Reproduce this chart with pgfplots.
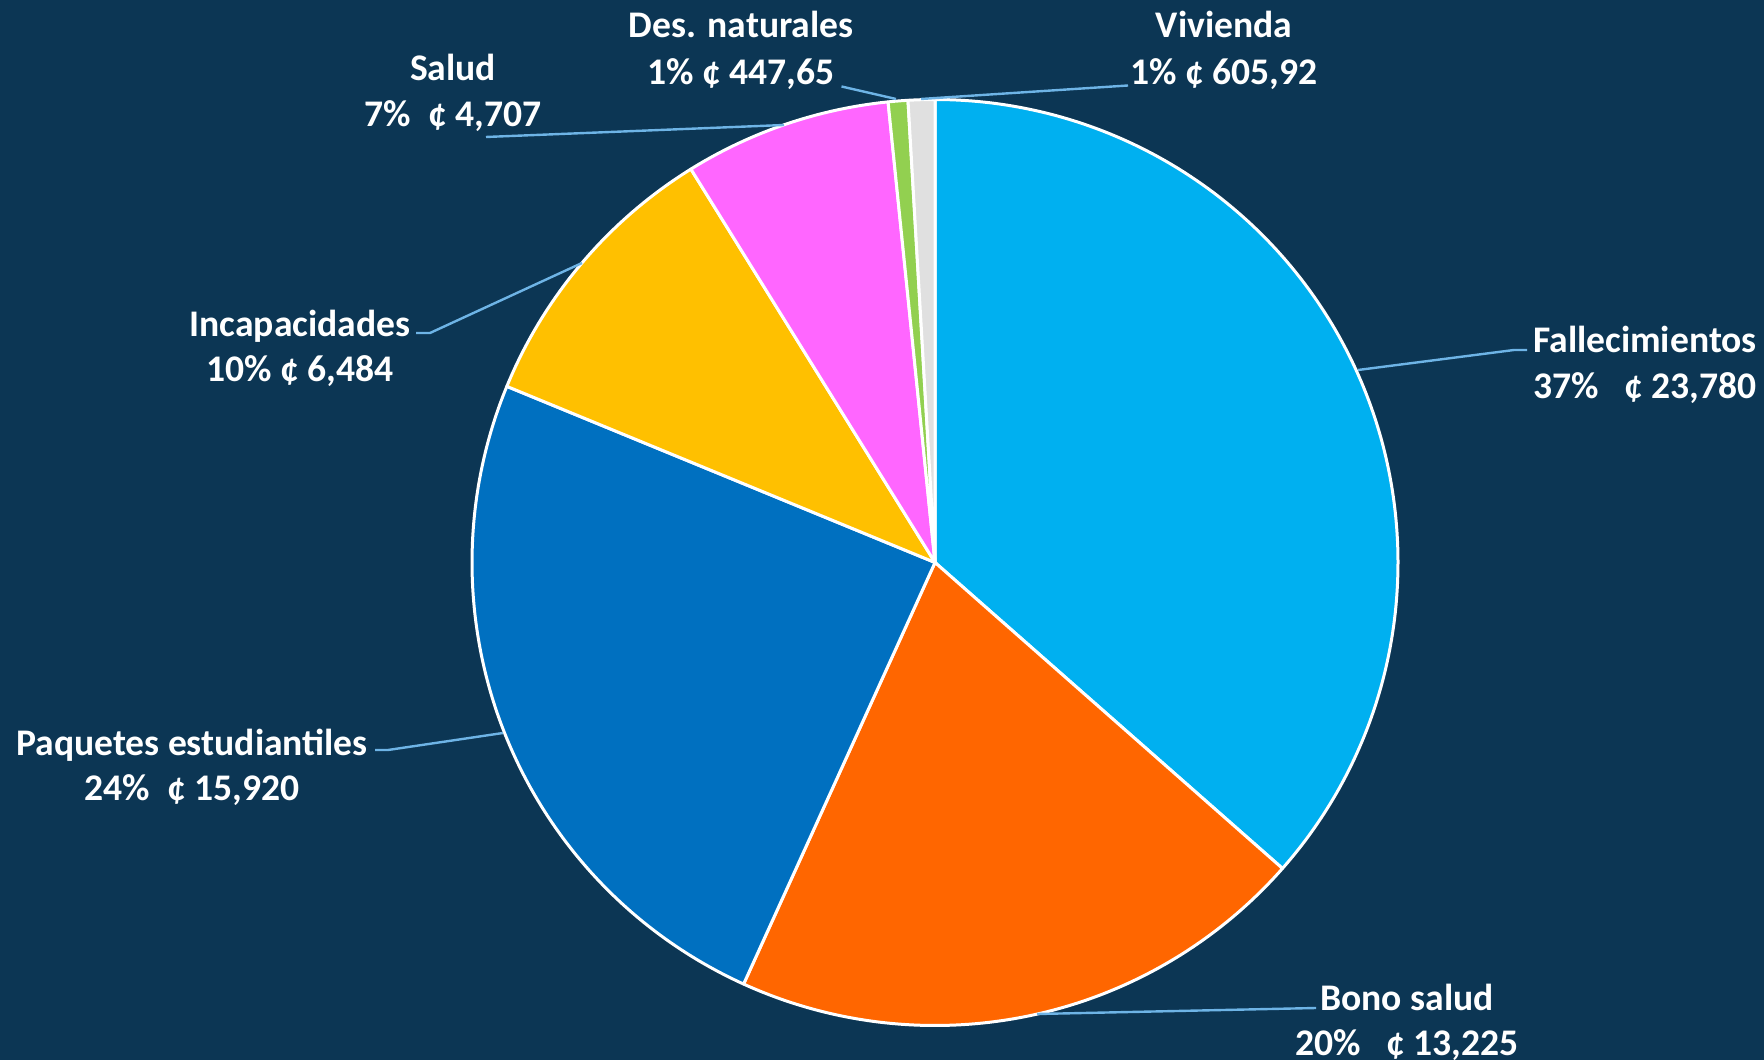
\documentclass[border=0pt]{standalone}
\usepackage{pgfplots}
\pgfplotsset{compat=1.18}
\usepackage{fontspec}
\setmainfont{Carlito}
\definecolor{bg}{RGB}{12,54,84}
\definecolor{cFal}{HTML}{00B0F0}
\definecolor{cBon}{HTML}{FF6600}
\definecolor{cPaq}{HTML}{0070C0}
\definecolor{cInc}{HTML}{FFC000}
\definecolor{cSal}{HTML}{FF66FF}
\definecolor{cDes}{HTML}{92D050}
\definecolor{cViv}{HTML}{E0E0E0}
\definecolor{lead}{RGB}{110,180,230}
\tikzset{
  slice/.style={draw=white, line width=1.5pt, line join=round},
  lab/.style={text=white, anchor=base, inner sep=0pt, font=\fontsize{18.8pt}{23pt}\selectfont\bfseries},
  ld/.style={draw=lead, line width=1.2pt}}
% values (colones)
\def\vFal{23780}
\def\vBon{13225}
\def\vPaq{15920}
\def\vInc{6484}
\def\vSal{4707}
\def\vDes{447.65}
\def\vViv{605.92}
\edef\tot{\fpeval{\vFal+\vBon+\vPaq+\vInc+\vSal+\vDes+\vViv}}
\edef\aA{90}
\edef\aB{\fpeval{\aA-360*\vFal/\tot}}
\edef\aC{\fpeval{\aB-360*\vBon/\tot}}
\edef\aD{\fpeval{\aC-360*\vPaq/\tot}}
\edef\aE{\fpeval{\aD-360*\vInc/\tot}}
\edef\aF{\fpeval{\aE-360*\vSal/\tot}}
\edef\aG{\fpeval{\aF-360*\vDes/\tot}}
\edef\aH{\fpeval{\aG-360*\vViv/\tot}}
\def\cx{935}
\def\cy{497.5}
\def\R{463}
\begin{document}
\begin{tikzpicture}
\begin{axis}[hide axis, scale only axis, width=882pt, height=530pt,
  xmin=0, xmax=1764, ymin=0, ymax=1060, clip=false, samples=150]
\fill[bg] (axis cs:0,0) rectangle (axis cs:1764,1060);
\addplot[slice, fill=cFal, domain=\aB:\aA] ({\cx+\R*cos(x)},{\cy+\R*sin(x)}) -- (axis cs:\cx,\cy) -- cycle;
\addplot[slice, fill=cBon, domain=\aC:\aB] ({\cx+\R*cos(x)},{\cy+\R*sin(x)}) -- (axis cs:\cx,\cy) -- cycle;
\addplot[slice, fill=cPaq, domain=\aD:\aC] ({\cx+\R*cos(x)},{\cy+\R*sin(x)}) -- (axis cs:\cx,\cy) -- cycle;
\addplot[slice, fill=cInc, domain=\aE:\aD] ({\cx+\R*cos(x)},{\cy+\R*sin(x)}) -- (axis cs:\cx,\cy) -- cycle;
\addplot[slice, fill=cSal, domain=\aF:\aE] ({\cx+\R*cos(x)},{\cy+\R*sin(x)}) -- (axis cs:\cx,\cy) -- cycle;
\addplot[slice, fill=cDes, domain=\aG:\aF, samples=20] ({\cx+\R*cos(x)},{\cy+\R*sin(x)}) -- (axis cs:\cx,\cy) -- cycle;
\addplot[slice, fill=cViv, domain=\aH:\aG, samples=20] ({\cx+\R*cos(x)},{\cy+\R*sin(x)}) -- (axis cs:\cx,\cy) -- cycle;
% leader lines
\draw[ld] (axis cs:1128,974.5) -- (axis cs:921,961);
\draw[ld] (axis cs:841.5,973.5) -- (axis cs:896,961);
\draw[ld] (axis cs:486,923) -- (axis cs:784,935);
\draw[ld] (axis cs:416,727) -- (axis cs:430,727) -- (axis cs:582,797);
\draw[ld] (axis cs:375,310) -- (axis cs:388,310) -- (axis cs:503,327);
\draw[ld] (axis cs:1527,710) -- (axis cs:1514,710) -- (axis cs:1358,690);
\draw[ld] (axis cs:1316,52) -- (axis cs:1037,46);
% labels
\node[lab] at (axis cs:1224,1022) {Vivienda};
\node[lab] at (axis cs:1224,975) {1\% ¢ 605,92};
\node[lab] at (axis cs:741,1022) {Des. naturales};
\node[lab] at (axis cs:741,975) {1\% ¢ 447,65};
\node[lab] at (axis cs:453,979.5) {Salud};
\node[lab] at (axis cs:453,933) {7\%~~¢ 4,707};
\node[lab] at (axis cs:300,723) {Incapacidades};
\node[lab] at (axis cs:300,678) {10\% ¢ 6,484};
\node[lab] at (axis cs:192,304.5) {Paquetes estudiantiles};
\node[lab] at (axis cs:192,259.5) {24\%~~¢ 15,920};
\node[lab] at (axis cs:1645,707) {Fallecimientos};
\node[lab] at (axis cs:1645,661) {37\%~~~¢ 23,780};
\node[lab] at (axis cs:1407,50) {Bono salud};
\node[lab] at (axis cs:1407,5) {20\%~~~¢ 13,225};
\end{axis}
\pgfresetboundingbox
\useasboundingbox (0,0) rectangle (882pt,530pt);
\end{tikzpicture}
\end{document}
